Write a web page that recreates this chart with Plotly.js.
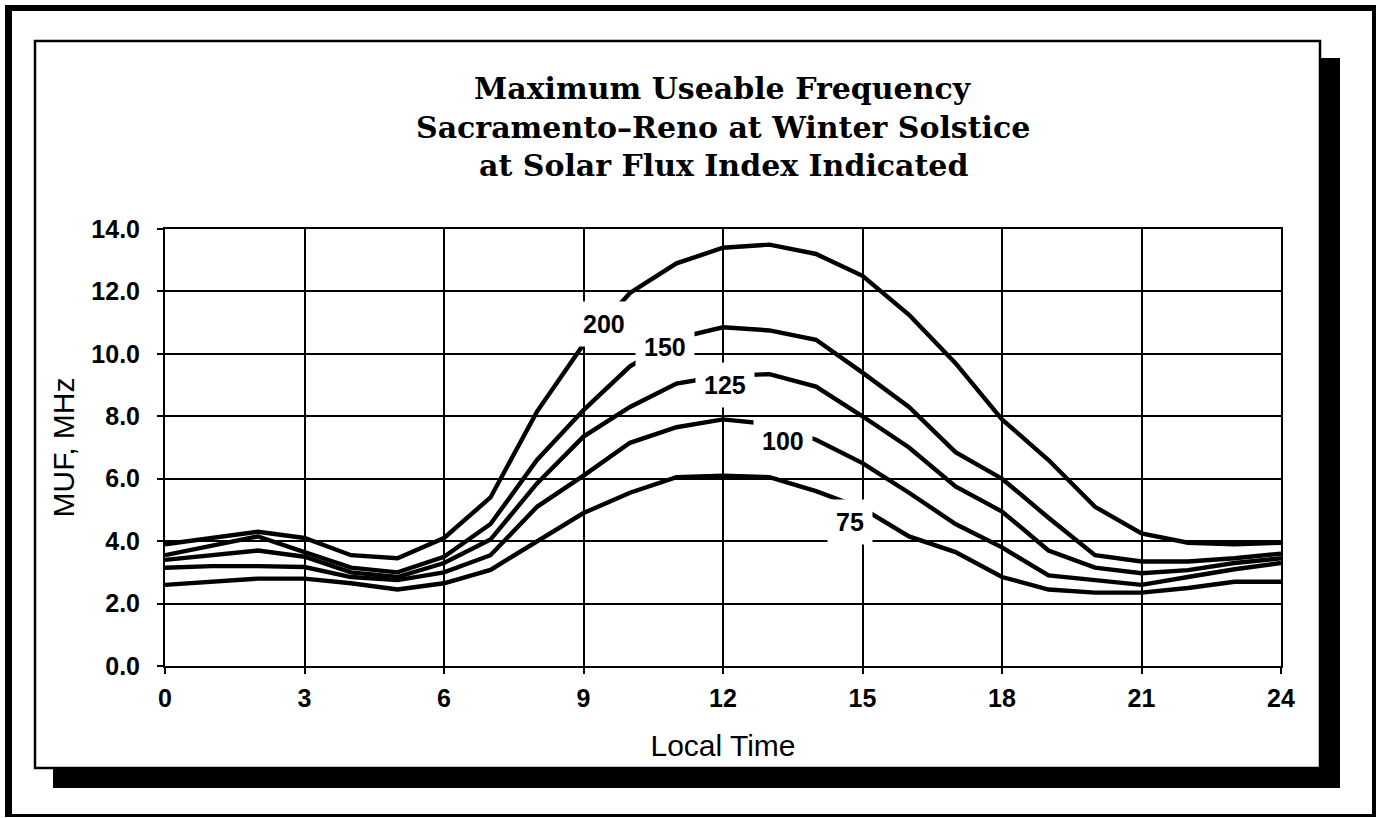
<!DOCTYPE html>
<html>
<head>
<meta charset="utf-8">
<script src="https://cdn.plot.ly/plotly-3.0.1.min.js"></script>
<style>
  html, body { margin: 0; padding: 0; background: #fff; }
  #chart { width: 1382px; height: 818px; }
</style>
</head>
<body>
<div id="chart"></div>
<script>
// ---- data ----
const hours = [0,1,2,3,4,5,6,7,8,9,10,11,12,13,14,15,16,17,18,19,20,21,22,23,24];
const flux200 = [3.9,4.1,4.3,4.1,3.55,3.45,4.1,5.4,8.15,10.3,11.95,12.9,13.4,13.5,13.2,12.5,11.25,9.7,7.9,6.6,5.1,4.25,3.95,3.9,3.95];
const flux150 = [3.55,3.85,4.15,3.65,3.15,3.0,3.5,4.55,6.6,8.2,9.6,10.5,10.85,10.75,10.45,9.4,8.3,6.85,6.0,4.75,3.55,3.35,3.35,3.45,3.6];
const flux125 = [3.4,3.55,3.7,3.5,3.0,2.85,3.3,4.05,5.85,7.35,8.3,9.05,9.3,9.35,8.95,8.0,7.0,5.75,4.95,3.7,3.15,2.97,3.07,3.3,3.45];
const flux100 = [3.15,3.2,3.2,3.17,2.85,2.75,3.0,3.55,5.1,6.1,7.15,7.65,7.9,7.75,7.25,6.5,5.55,4.55,3.8,2.9,2.75,2.6,2.85,3.1,3.3];
const flux75  = [2.6,2.7,2.8,2.8,2.65,2.45,2.65,3.08,4.0,4.9,5.55,6.05,6.1,6.05,5.6,5.05,4.15,3.65,2.85,2.45,2.35,2.35,2.5,2.7,2.7];

const seriesNames = ['200','150','125','100','75'];
const seriesValues = [flux200, flux150, flux125, flux100, flux75];
// label positions along each curve (hour, MHz)
const labelHours = [9.44, 10.75, 12.04, 13.29, 14.73];
const labelMHz   = [10.96, 10.22, 9.0, 7.21, 4.62];

const xTicks = [0,3,6,9,12,15,18,21,24];
const yTicks = [0,2,4,6,8,10,12,14];

const titleLines = ['Maximum Useable Frequency', 'Sacramento\u2013Reno at Winter Solstice', 'at Solar Flux Index Indicated'];

// ---- layout helpers (pixel -> paper) ----
const L = 165, R = 1281, T = 229, B = 666;
const px = p => (p - L) / (R - L);
const py = p => (B - p) / (B - T);

const traces = seriesValues.map((vals, i) => ({
  x: hours, y: vals, type: 'scatter', mode: 'lines', name: seriesNames[i],
  line: { color: '#000', width: 4.4 }, hoverinfo: 'skip'
}));

const sansBold = { family: 'Liberation Sans, Arial, sans-serif', size: 25, color: '#000', weight: 'bold' };
const titleFont = { family: 'Liberation Sans, Arial, sans-serif', size: 30, color: '#000' };

const annotations = seriesNames.map((n, i) => ({
  x: labelHours[i], y: labelMHz[i], xref: 'x', yref: 'y', text: n, showarrow: false,
  font: sansBold, bgcolor: '#fff', borderpad: 8
}));

const titleY = [88, 128, 166];
titleLines.forEach((t, i) => annotations.push({
  x: 0.5, y: py(titleY[i]), xref: 'paper', yref: 'paper', xanchor: 'center', yanchor: 'middle',
  text: '<b>' + t + '</b>', showarrow: false,
  font: { family: 'DejaVu Serif, serif', size: 30, color: '#000' }
}));

const line = (x0, y0, x1, y1, w) => ({ type: 'line', xref: 'paper', yref: 'paper',
  x0: px(x0), y0: py(y0), x1: px(x1), y1: py(y1), line: { color: '#000', width: w } });
const box = (x0, y0, x1, y1) => ({ type: 'rect', xref: 'paper', yref: 'paper',
  x0: px(x0), y0: py(y0), x1: px(x1), y1: py(y1), fillcolor: '#000', line: { width: 0 } });

const shapes = [
  line(8.5, 5, 8.5, 817, 7), line(5, 8, 1376, 8, 6), line(1374, 5, 1374, 817, 4), line(5, 815.5, 1376, 815.5, 3),
  { type: 'rect', xref: 'paper', yref: 'paper', x0: px(35), y0: py(41), x1: px(1320), y1: py(768),
    line: { color: '#000', width: 2.5 } },
  box(1320, 58, 1340, 788), box(53, 768, 1340, 788)
];

const axisCommon = {
  showline: true, mirror: true, linecolor: '#000', linewidth: 2,
  showgrid: true, gridcolor: '#000', gridwidth: 2, zeroline: false,
  ticks: 'outside', ticklen: 6, tickwidth: 2, tickcolor: '#000',
  tickfont: sansBold, fixedrange: true
};

const layout = {
  width: 1382, height: 818,
  margin: { l: L, r: 1382 - R, t: T, b: 818 - B },
  paper_bgcolor: '#fff', plot_bgcolor: '#fff',
  showlegend: false,
  xaxis: Object.assign({}, axisCommon, {
    range: [0, 24], tickmode: 'array', tickvals: xTicks, ticktext: xTicks.map(String),
    ticklabelstandoff: 3,
    title: { text: 'Local Time', standoff: 24, font: titleFont }
  }),
  yaxis: Object.assign({}, axisCommon, {
    range: [0, 14], tickmode: 'array', tickvals: yTicks, ticktext: yTicks.map(v => v.toFixed(1)),
    ticklabelstandoff: 12,
    title: { text: 'MUF, MHz', standoff: 8, font: titleFont }
  }),
  annotations: annotations,
  shapes: shapes
};

Plotly.newPlot('chart', traces, layout, { displayModeBar: false, staticPlot: true });
</script>
</body>
</html>
